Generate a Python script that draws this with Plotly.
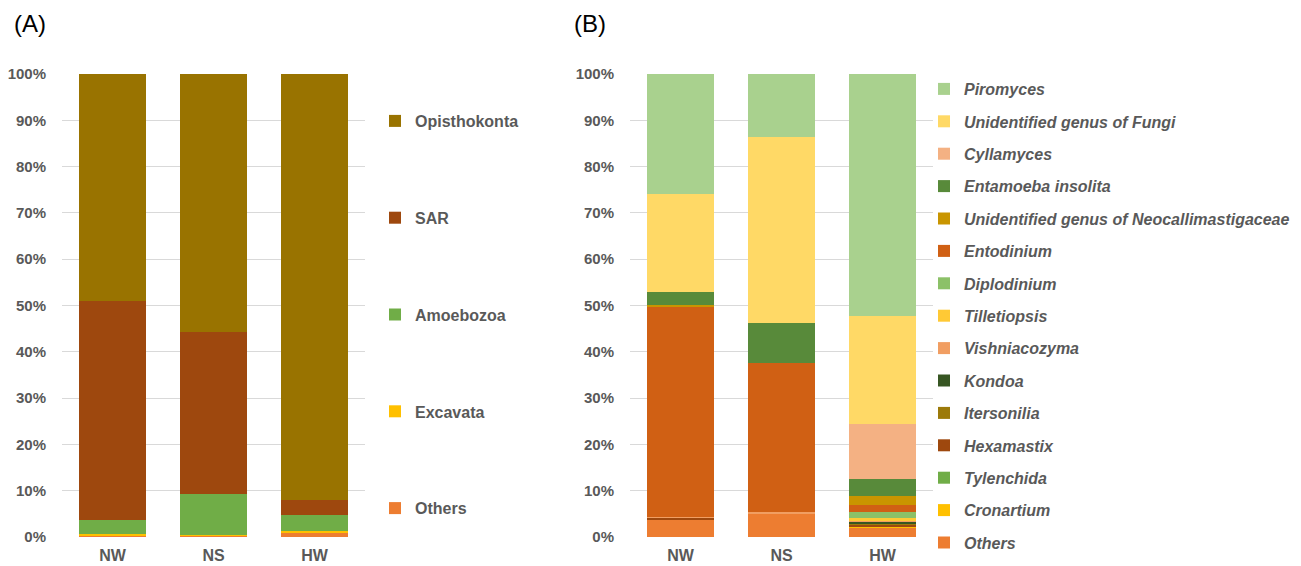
import plotly.graph_objects as go

W, H = 1301, 566

sites = ["NW", "NS", "HW"]

# Panel A: supergroups (bottom to top of each stack), percent
groups_a = ["Others", "Excavata", "Amoebozoa", "SAR", "Opisthokonta"]
others_a = [0.2, 0.3, 1.0]
excavata = [0.5, 0.1, 0.3]
amoebozoa = [2.9, 8.8, 3.5]
sar = [47.4, 35.1, 3.3]
opisthokonta = [49.0, 55.7, 91.9]
colors_a = ["#ED7D31", "#FFC000", "#70AD47", "#9E480E", "#997300"]

# Panel B: genera (bottom to top of each stack), percent
genera_b = ["Others", "Cronartium", "Tylenchida", "Hexamastix", "Itersonilia",
            "Kondoa", "Vishniacozyma", "Tilletiopsis", "Diplodinium", "Entodinium",
            "Unidentified genus of Neocallimastigaceae", "Entamoeba insolita",
            "Cyllamyces", "Unidentified genus of Fungi", "Piromyces"]
others_b = [3.6, 5.1, 2.0]
cronartium = [0.0, 0.0, 0.2]
tylenchida = [0.0, 0.0, 0.1]
hexamastix = [0.6, 0.0, 0.3]
itersonilia = [0.05, 0.0, 0.4]
kondoa = [0.0, 0.0, 0.4]
vishniacozyma = [0.1, 0.4, 0.1]
tilletiopsis = [0.0, 0.0, 0.5]
diplodinium = [0.0, 0.0, 1.5]
entodinium = [45.5, 32.1, 1.4]
neocallimastigaceae = [0.3, 0.0, 2.0]
entamoeba = [2.8, 8.6, 3.6]
cyllamyces = [0.0, 0.0, 11.9]
fungi_unid = [21.2, 40.3, 23.3]
piromyces = [25.85, 13.5, 52.3]
colors_b = ["#ED7D31", "#FFC000", "#70AD47", "#9E480E", "#9C7A0A",
            "#375623", "#F19E62", "#FFC935", "#8CC168", "#D06014",
            "#C99500", "#588A3A", "#F4B183", "#FFD966", "#A9D18E"]

values_a = [others_a, excavata, amoebozoa, sar, opisthokonta]
values_b = [others_b, cronartium, tylenchida, hexamastix, itersonilia, kondoa,
            vishniacozyma, tilletiopsis, diplodinium, entodinium,
            neocallimastigaceae, entamoeba, cyllamyces, fungi_unid, piromyces]

GRAY = "#595959"
FONT = "Liberation Sans, Arial, sans-serif"

fig = go.Figure()

# bottom segment first; legend lists the top segment first
for i, (name, vals, col) in enumerate(zip(groups_a, values_a, colors_a)):
    fig.add_trace(go.Bar(
        x=sites, y=vals, name=name, marker=dict(color=col, line=dict(width=0)),
        xaxis="x", yaxis="y", legend="legend", legendgroup="a_" + name,
        legendrank=1000 - i,
    ))

for i, (name, vals, col) in enumerate(zip(genera_b, values_b, colors_b)):
    fig.add_trace(go.Bar(
        x=sites, y=vals, name=name, marker=dict(color=col, line=dict(width=0)),
        xaxis="x2", yaxis="y2", legend="legend2", legendgroup="b_" + name,
        legendrank=1000 - i,
    ))


def px_x(p):
    return p / W


def px_y(p):
    return 1 - p / H


ydom = [px_y(537), px_y(74)]

xaxis_common = dict(
    type="category", showgrid=False, zeroline=False, showline=False,
    ticks="outside", ticklen=4, tickcolor="rgba(0,0,0,0)",
    tickfont=dict(family=FONT, size=16, color=GRAY, weight="bold"),
    fixedrange=True, automargin=False,
)
yaxis_common = dict(
    range=[0, 100], dtick=10, ticksuffix="%", showgrid=True,
    gridcolor="#D9D9D9", gridwidth=1, zeroline=False, showline=False,
    ticks="outside", ticklen=12, tickcolor="rgba(0,0,0,0)",
    tickfont=dict(family=FONT, size=15, color=GRAY, weight="bold"),
    domain=ydom, fixedrange=True, automargin=False,
)

fig.update_layout(
    width=W, height=H,
    margin=dict(l=0, r=0, t=0, b=0, autoexpand=False),
    paper_bgcolor="white", plot_bgcolor="white",
    barmode="stack", bargap=0.327,
    xaxis=dict(domain=[px_x(62), px_x(365)], anchor="y", **xaxis_common),
    yaxis=dict(anchor="x", **yaxis_common),
    xaxis2=dict(domain=[px_x(630), px_x(933)], anchor="y2", **xaxis_common),
    yaxis2=dict(anchor="x2", **yaxis_common),
    legend=dict(
        x=px_x(375), y=px_y(104), xanchor="left", yanchor="top",
        traceorder="grouped", tracegroupgap=73,
        font=dict(family=FONT, size=16, color=GRAY, weight="bold"),
        bgcolor="rgba(0,0,0,0)", borderwidth=0,
    ),
    legend2=dict(
        x=px_x(924), y=px_y(72), xanchor="left", yanchor="top",
        traceorder="grouped", tracegroupgap=8.6,
        font=dict(family=FONT, size=16, color=GRAY, weight="bold", style="italic"),
        bgcolor="rgba(0,0,0,0)", borderwidth=0,
    ),
    annotations=[
        dict(text="(A)", x=px_x(12), y=px_y(24), xref="paper", yref="paper",
             xanchor="left", yanchor="middle", showarrow=False,
             font=dict(family=FONT, size=24, color="black")),
        dict(text="(B)", x=px_x(572), y=px_y(24), xref="paper", yref="paper",
             xanchor="left", yanchor="middle", showarrow=False,
             font=dict(family=FONT, size=24, color="black")),
    ],
)

fig.write_html("out.html")
